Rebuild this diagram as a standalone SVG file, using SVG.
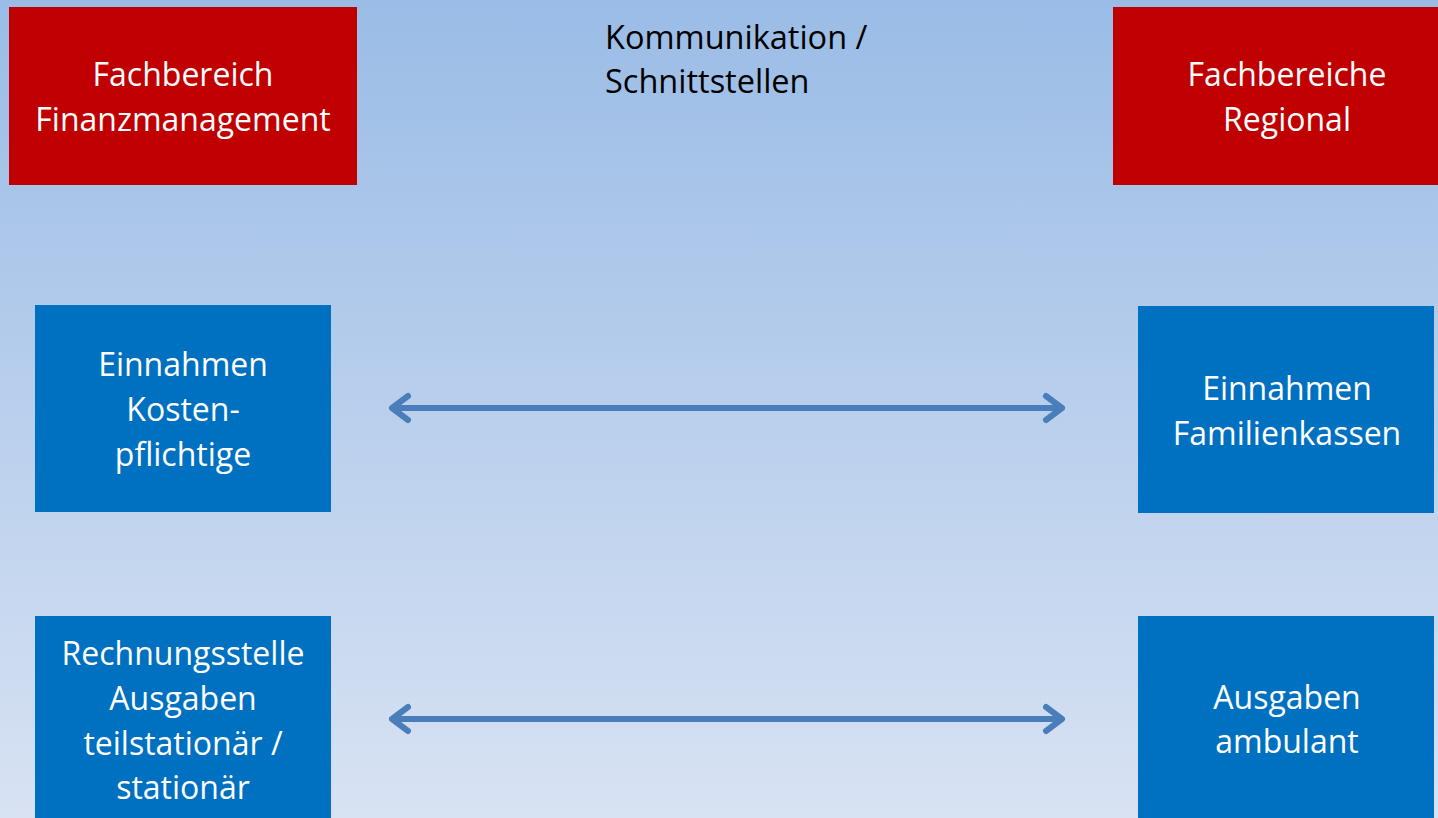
<svg xmlns="http://www.w3.org/2000/svg" width="1438" height="818" viewBox="0 0 1438 818">
<defs>
<linearGradient id="bg" x1="0" y1="0" x2="0" y2="1">
<stop offset="0" stop-color="#9ABCE6"/>
<stop offset="1" stop-color="#D8E2F3"/>
</linearGradient>
<style>
.red{fill:#C00000}
.blue{fill:#0070C0}
.t{font-family:"Open Sans","Noto Sans",sans-serif;font-size:32px;fill:#FFFFFF;text-anchor:middle}
.k{font-family:"Open Sans","Noto Sans",sans-serif;font-size:32.5px;fill:#000000}
.arr{fill:none;stroke:#4A7EBB;stroke-width:6;stroke-linecap:round;stroke-linejoin:round}
</style>
</defs>
<rect width="1438" height="818" fill="url(#bg)"/>
<g id="n-fin">
<rect class="red" x="9" y="7" width="348" height="178"/>
<text class="t" x="183" y="86">Fachbereich</text>
<text class="t" x="183" y="131">Finanzmanagement</text>
</g>
<g id="n-komm">
<text class="k" x="605" y="49">Kommunikation /</text>
<text class="k" x="605" y="93">Schnittstellen</text>
</g>
<g id="n-reg">
<rect class="red" x="1113" y="7" width="325" height="178"/>
<text class="t" x="1287" y="86">Fachbereiche</text>
<text class="t" x="1287" y="131">Regional</text>
</g>
<g id="n-ek">
<rect class="blue" x="35" y="305" width="296" height="207"/>
<text class="t" x="183" y="376">Einnahmen</text>
<text class="t" x="183" y="421">Kosten-</text>
<text class="t" x="183" y="466">pflichtige</text>
</g>
<g id="n-ef">
<rect class="blue" x="1138" y="306" width="296" height="207"/>
<text class="t" x="1287" y="400">Einnahmen</text>
<text class="t" x="1287" y="445">Familienkassen</text>
</g>
<g id="n-ra">
<rect class="blue" x="35" y="616" width="296" height="210"/>
<text class="t" x="183" y="665">Rechnungsstelle</text>
<text class="t" x="183" y="710">Ausgaben</text>
<text class="t" x="183" y="755">teilstationär /</text>
<text class="t" x="183" y="799">stationär</text>
</g>
<g id="n-aa">
<rect class="blue" x="1138" y="616" width="296" height="210"/>
<text class="t" x="1287" y="709">Ausgaben</text>
<text class="t" x="1287" y="753">ambulant</text>
</g>
<g id="connectors">
<path class="arr" d="M392 408 H1062 M408 396 L392 408 L408 420 M1046 396 L1062 408 L1046 420"/>
<path class="arr" d="M392 719 H1062 M408 707 L392 719 L408 731 M1046 707 L1062 719 L1046 731"/>
</g>
</svg>
